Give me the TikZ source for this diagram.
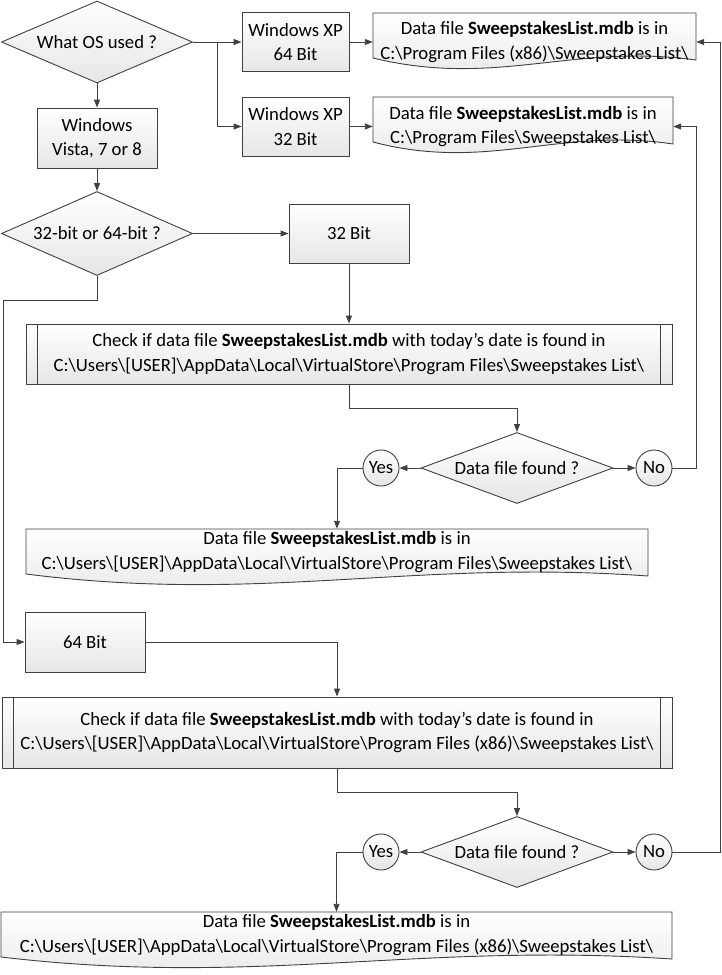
\documentclass[tikz,border=0pt]{standalone}
\usepackage{fontspec}
\setmainfont{Carlito}
\usetikzlibrary{shapes.geometric,arrows.meta,calc}
\definecolor{linec}{HTML}{404040}
\definecolor{fillc}{HTML}{E6E6E6}
\newcommand\docshape[3]{%
  \path[docsty] (#1,#3) -- (#2,#3) -- (#2,{#3+47})
    .. controls ({#1+0.62*(#2-#1)},{#3+30}) and ({#1+0.38*(#2-#1)},{#3+75}) .. (#1,{#3+45}) -- cycle;}
\begin{document}
\begin{tikzpicture}[x=1pt,y=-1pt,
  every node/.style={font=\fontsize{18.7}{24.5}\selectfont, align=center, inner sep=0pt},
  shade/.style={draw=linec, line width=0.9pt, top color=white, bottom color=fillc},
  docsty/.style={shade},
  box/.style={shade, rectangle, minimum width=#1},
  box/.default=120pt,
  dia/.style={shade, diamond, minimum width=191pt, minimum height=82pt, aspect=2.3},
  dec/.style={shade, diamond, minimum width=192pt, minimum height=71pt, aspect=2.7},
  circ/.style={shade, circle, minimum size=36pt},
  doctext/.style={rectangle, draw=none},
  arr/.style={draw=linec, line width=0.9pt, -{Triangle[length=8pt,width=6pt]}},
  ln/.style={draw=linec, line width=0.9pt}]
\useasboundingbox (0,0) rectangle (722,975);
% documents (shapes)
\docshape{373}{696}{13}
\docshape{373}{673}{97}
\docshape{26}{648}{529}
\docshape{1}{672}{912}
% nodes
\node[dia] (d1) at (97,42) {What OS used ?};
\node[box=107pt, minimum height=59pt] (xp64) at (295.5,42) {Windows XP\\64 Bit};
\node[box=107pt, minimum height=59pt] (xp32) at (295.5,126.5) {Windows XP\\32 Bit};
\node[doctext, minimum width=323pt, minimum height=58pt] (doc1) at (534.5,42)
  {Data file \textbf{SweepstakesList.mdb} is in\\C:\textbackslash Program Files (x86)\textbackslash Sweepstakes List\textbackslash};
\node[doctext, minimum width=300pt, minimum height=59pt] (doc2) at (523,126.5)
  {Data file \textbf{SweepstakesList.mdb} is in\\C:\textbackslash Program Files\textbackslash Sweepstakes List\textbackslash};
\node[box, minimum height=60pt] (vista) at (97,138) {Windows\\Vista, 7 or 8};
\node[dia, minimum height=84pt] (d2) at (97,233.5) {32-bit or 64-bit ?};
\node[box, minimum height=59pt] (b32) at (349,233.5) {32 Bit};
\node[box=646pt, minimum height=60pt] (p1) at (349,354)
  {Check if data file \textbf{SweepstakesList.mdb} with today’s date is found in\\C:\textbackslash Users\textbackslash [USER]\textbackslash AppData\textbackslash Local\textbackslash VirtualStore\textbackslash Program Files\textbackslash Sweepstakes List\textbackslash};
\draw[ln] ($(p1.north west)+(12,0)$) -- ($(p1.south west)+(12,0)$);
\draw[ln] ($(p1.north east)+(-12,0)$) -- ($(p1.south east)+(-12,0)$);
\node[dec] (d3) at (517,468) {Data file found ?};
\node[circ] (yes1) at (381,468) {Yes};
\node[circ] (no1) at (654,468) {No};
\node[doctext, minimum width=622pt, minimum height=46pt] (doc3) at (337,552)
  {Data file \textbf{SweepstakesList.mdb} is in\\C:\textbackslash Users\textbackslash [USER]\textbackslash AppData\textbackslash Local\textbackslash VirtualStore\textbackslash Program Files\textbackslash Sweepstakes List\textbackslash};
\node[box, minimum height=60pt] (b64) at (85,642) {64 Bit};
\node[box=670pt, minimum height=71pt] (p2) at (337,732.5)
  {Check if data file \textbf{SweepstakesList.mdb} with today’s date is found in\\C:\textbackslash Users\textbackslash [USER]\textbackslash AppData\textbackslash Local\textbackslash VirtualStore\textbackslash Program Files (x86)\textbackslash Sweepstakes List\textbackslash};
\draw[ln] ($(p2.north west)+(12,0)$) -- ($(p2.south west)+(12,0)$);
\draw[ln] ($(p2.north east)+(-12,0)$) -- ($(p2.south east)+(-12,0)$);
\node[dec] (d4) at (517,852) {Data file found ?};
\node[circ] (yes2) at (381,852) {Yes};
\node[circ] (no2) at (654,852) {No};
\node[doctext, minimum width=671pt, minimum height=46pt] (doc4) at (336.5,935)
  {Data file \textbf{SweepstakesList.mdb} is in\\C:\textbackslash Users\textbackslash [USER]\textbackslash AppData\textbackslash Local\textbackslash VirtualStore\textbackslash Program Files (x86)\textbackslash Sweepstakes List\textbackslash};
% connectors
\coordinate (br) at (217,42);
\coordinate (c2) at (3,300);
\draw[arr] (d1.south) -- (vista.north);
\draw[arr] (d1.east) -- (xp64.west);
\draw[arr] (br) |- (xp32.west);
\draw[arr] (xp64.east) -- (doc1.west);
\draw[arr] (xp32.east) -- (doc2.west);
\draw[arr] (vista.south) -- (d2.north);
\draw[arr] (d2.east) -- (b32.west);
\draw[arr] (b32.south) -- (p1.north);
\draw[arr] (p1.south) -- ++(0,24) -| (d3.north);
\draw[arr] (d3.west) -- (yes1.east);
\draw[arr] (d3.east) -- (no1.west);
\draw[arr] (yes1.west) -| (doc3.north);
\draw[arr] (no1.east) -- ++(24,0) |- (doc2.east);
\draw[arr] (d2.south) |- (c2) |- (b64.west);
\draw[arr] (b64.east) -| (p2.north);
\draw[arr] (p2.south) -- ++(0,24) -| (d4.north);
\draw[arr] (d4.west) -- (yes2.east);
\draw[arr] (d4.east) -- (no2.west);
\draw[arr] (yes2.west) -| (doc4.north);
\draw[arr] (no2.east) -- ++(48,0) |- (doc1.east);
\end{tikzpicture}
\end{document}
